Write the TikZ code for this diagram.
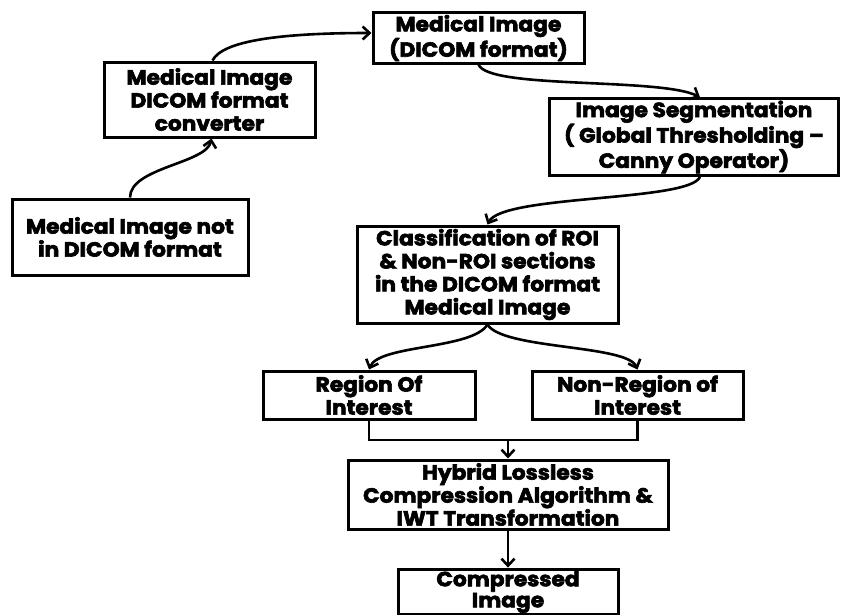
\documentclass[tikz,border=0pt]{standalone}
\usepackage{fontspec}
\setmainfont{Poppins}[BoldFeatures={FakeBold=3, FakeStretch=1.06}]
\usetikzlibrary{arrows.meta}
\tikzset{
  blk/.style={draw=black, line width=3pt, align=center, inner sep=2pt, font=\fontsize{20.5}{23}\selectfont\bfseries},
  lnk/.style={->, line width=2.6pt}
}
\begin{document}
\begin{tikzpicture}[x=1pt, y=-1pt, >={Straight Barb[length=7pt,width=13pt]}]
					\useasboundingbox (0,0) rectangle (841,614);
					\clip (0,0) rectangle (841,614);
					\node[blk, minimum width=211pt, minimum height=48pt] (dicom) at (478.5,38) {Medical Image\\(DICOM format)};
					\node[blk, minimum width=211pt, minimum height=75pt] (conv) at (209.5,99.5) {Medical Image\\DICOM format\\converter};
					\node[blk, minimum width=236pt, minimum height=76pt] (raw) at (130,237) {Medical Image not\\in DICOM format};
					\node[blk, minimum width=289pt, minimum height=70pt] (seg) at (694,137) {Image Segmentation\\( Global Thresholding --\\Canny Operator)};
					\node[blk, minimum width=261pt, minimum height=97pt] (cls) at (487.5,274.5) {Classification of ROI\\\& Non-ROI sections\\in the DICOM format\\Medical Image};
					\node[blk, minimum width=212pt, minimum height=48pt] (roi) at (369,395) {Region Of\\Interest};
					\node[blk, minimum width=211pt, minimum height=48pt] (nroi) at (637.5,395) {Non-Region of\\Interest};
					\node[blk, minimum width=320pt, minimum height=69pt] (hyb) at (508,494.5) {Hybrid Lossless\\Compression Algorithm \&\\IWT Transformation};
					\node[blk, minimum width=220pt, minimum height=44pt, font=\fontsize{20.5}{21}\selectfont\bfseries] (comp) at (508,592) {Compressed\\Image};
					\coordinate (merge) at (508,440);
					\draw[lnk] (raw.north) .. controls +(0,-30) and +(-5,25) .. ([xshift=2pt]conv.south);
					\draw[lnk] ([xshift=3pt]conv.north) .. controls +(10,-20) and +(-90,0) .. ([yshift=5pt]dicom.west);
					\draw[lnk] (dicom.south) .. controls +(10,25) and +(-40,-20) .. ([xshift=6pt]seg.north);
					\draw[lnk] ([xshift=6pt]seg.south) .. controls +(-10,25) and +(15,-30) .. (cls.north);
					\draw[lnk] (cls.south) .. controls +(-15,25) and +(10,-25) .. (roi.north);
					\draw[lnk] (cls.south) .. controls +(15,25) and +(-10,-25) .. (nroi.north);
					\draw[line width=2.6pt] (roi.south) |- (merge) -| (nroi.south);
					\draw[lnk] (merge) -- (hyb.north);
					\draw[lnk] (hyb.south) -- (comp.north);
				\end{tikzpicture}
\end{document}
